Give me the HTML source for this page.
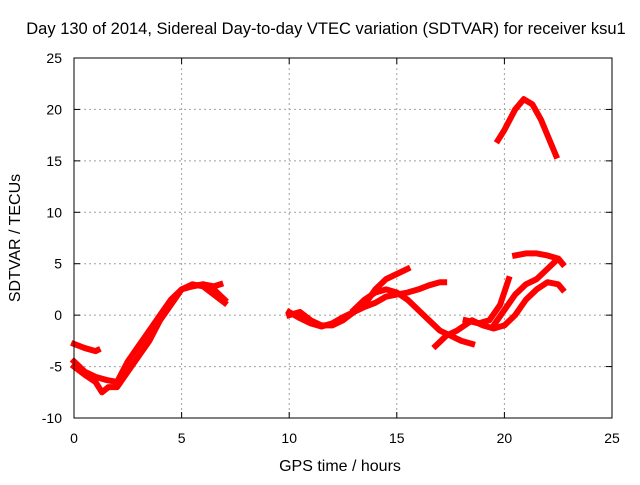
<!DOCTYPE html>
<html><head><meta charset="utf-8"><style>
body{margin:0;background:#fff;}
svg text{font-family:"Liberation Sans",sans-serif;font-size:14px;fill:#000;}
</style></head><body>
<svg id="chart" width="640" height="480">
<text x="326" y="34" text-anchor="middle" style="font-size:16.5px">Day 130 of 2014, Sidereal Day-to-day VTEC variation (SDTVAR) for receiver ksu1</text>
<text x="340" y="471" text-anchor="middle" style="font-size:16px">GPS time / hours</text>
<text transform="translate(20,238) rotate(-90)" text-anchor="middle" style="font-size:16px">SDTVAR / TECUs</text>
<g id="grid"></g><g id="ticks"></g><g id="series"></g>
<rect x="74" y="58" width="538" height="360" fill="none" stroke="#000"/>
</svg>
<script>
const xTicks=[0,5,10,15,20,25];
const yTicks=[-10,-5,0,5,10,15,20,25];
const s1=[[0,-2.8],[0.5,-3.2],[1,-3.5],[1.1,-3.4]];
const s2=[[0,-5],[0.5,-5.8],[1,-6.5],[1.3,-7.5],[1.6,-7],[2,-7],[2.5,-5.5],[3,-4],[3.5,-2.5],[4,-0.5],[4.5,1],[5,2.5],[5.5,3],[6,2.8],[6.5,2],[7,1.2]];
const s3=[[0,-4.5],[0.5,-5.5],[1,-6],[1.5,-6.3],[2,-6.5],[2.5,-4.5],[3,-3],[3.5,-1.5],[4,0],[4.5,1.5],[5,2.5],[5.5,2.8],[6,3],[6.5,2.5],[7,1.5]];
const s4=[[5.5,2.8],[6,3],[6.5,2.8],[6.8,3]];
const s5=[[10,0],[10.5,0.3],[11,-0.5],[11.5,-1],[12,-1],[12.5,-0.5],[13,0.3],[13.5,1],[14,2.5],[14.5,3.5],[15,4],[15.5,4.5]];
const s6=[[10,0.3],[10.5,-0.3],[11,-0.8],[11.5,-1.1],[12,-0.8],[12.5,-0.2],[13,0.3],[13.5,0.8],[14,1.2],[14.5,1.8],[15,2],[15.5,2.2],[16,2.5],[16.5,2.9],[17,3.2],[17.2,3.2]];
const s7=[[13,0.5],[13.5,1.5],[14,2.2],[14.5,2.5],[15,2.2],[15.5,1.5],[16,0.5],[16.5,-0.5],[17,-1.5],[17.5,-2],[18,-2.5],[18.5,-2.8]];
const s8=[[16.8,-3],[17.3,-2],[17.8,-1.5],[18.5,-0.5],[19,-1],[19.5,-1.3],[20,-1],[20.5,0],[21,1.5],[21.5,2.5],[22,3.2],[22.5,3],[22.7,2.5]];
const s9=[[18.2,-0.5],[18.8,-0.8],[19.3,-0.5],[19.8,1],[20.2,3.5]];
const s10=[[19.7,17],[20,18],[20.5,20],[20.9,21],[21.3,20.5],[21.7,19],[22,17.5],[22.4,15.5]];
const s11=[[20.5,5.8],[21,6],[21.5,6],[22,5.8],[22.5,5.5],[22.7,5]];
const s12=[[19.5,-1],[20,0.5],[20.5,2],[21,3],[21.5,3.5],[22,4.5],[22.5,5.5],[22.7,5]];
const allSeries=[s1,s2,s3,s4,s5,s6,s7,s8,s9,s10,s11,s12];
const NS="http://www.w3.org/2000/svg";
const X=v=>74+(v-0)*538/25;
const Y=v=>418-(v+10)*360/35;
function mk(t,a,p){const e=document.createElementNS(NS,t);for(const k in a)e.setAttribute(k,a[k]);p.appendChild(e);return e;}
const grid=document.getElementById('grid'),ticks=document.getElementById('ticks'),ser=document.getElementById('series');
xTicks.forEach(t=>{
 if(t>0&&t<25){const g=mk('line',{x1:X(t),x2:X(t),y1:58,y2:418,stroke:'#a0a0a0','stroke-dasharray':'2,3'},grid);
 }
 mk('line',{x1:X(t),x2:X(t),y1:418,y2:412,stroke:'#000'},ticks);
 mk('line',{x1:X(t),x2:X(t),y1:58,y2:64,stroke:'#000'},ticks);
 const l=mk('text',{x:X(t),y:443,'text-anchor':'middle'},ticks);l.textContent=t;
 
});
yTicks.forEach(t=>{
 if(t>-10&&t<25){const g=mk('line',{x1:74,x2:612,y1:Y(t),y2:Y(t),stroke:'#a0a0a0','stroke-dasharray':'2,3'},grid);
 }
 mk('line',{x1:74,x2:80,y1:Y(t),y2:Y(t),stroke:'#000'},ticks);
 mk('line',{x1:612,x2:606,y1:Y(t),y2:Y(t),stroke:'#000'},ticks);
 const l=mk('text',{x:62,y:Y(t)+5,'text-anchor':'end'},ticks);l.textContent=t;
 
});
allSeries.forEach((s,i)=>{
 const p=mk('polyline',{points:s.map(d=>X(d[0])+','+Y(d[1])).join(' '),fill:'none',stroke:'#ff0000','stroke-width':6,'stroke-linejoin':'round','stroke-linecap':'square'},ser);
 
 
});
</script>
</body></html>
